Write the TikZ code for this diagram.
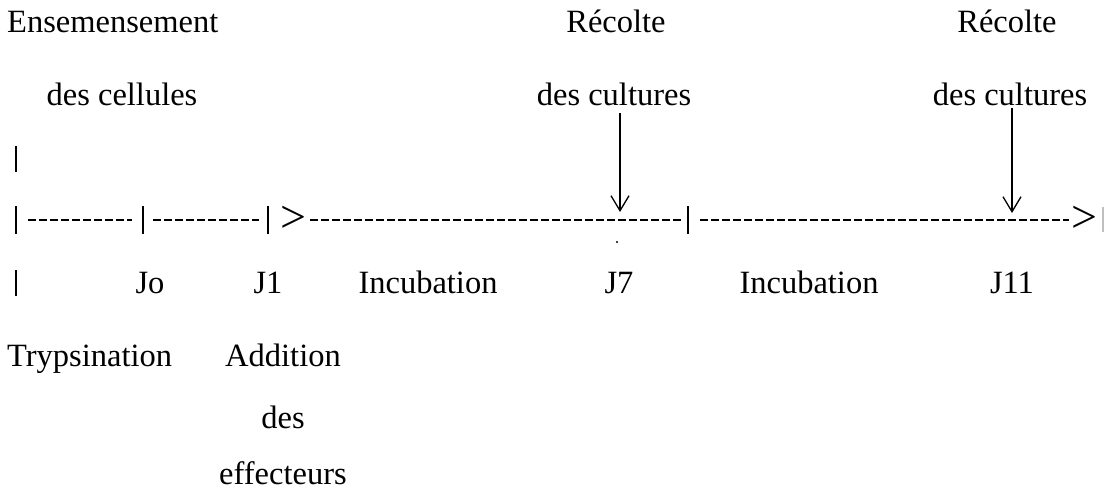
\documentclass[tikz,border=0pt]{standalone}
\usepackage{fontspec}
\setmainfont{Liberation Serif}
\usetikzlibrary{arrows.meta,calc}
\begin{document}
\begin{tikzpicture}[x=1pt,y=-1pt,
  lbl/.style={inner sep=0pt,anchor=base,font=\fontsize{32.5}{38}\selectfont},
  lblw/.style={lbl,anchor=base west},
  gtsym/.style={inner sep=0pt,font=\fontsize{46}{50}\selectfont},
  bar/.style={line width=1.8pt},
  dline/.style={line width=1.7pt,dash pattern=on 8pt off 3pt},
  harvest/.style={line width=1.3pt,-{Straight Barb[length=15pt,width=18pt,line width=1.3pt]}}]
\useasboundingbox (0,0) rectangle (1106,491);
% top labels
\node[lblw] (ens) at (7,32) {Ensemensement};
\node[lbl] (descel) at (122,105) {des cellules};
\node[lbl] (rec1) at (616,32) {Récolte};
\node[lbl] (cult1) at (614,105) {des cultures};
\node[lbl] (rec2) at (1007,32) {Récolte};
\node[lbl] (cult2) at (1010,105) {des cultures};
% upper bar
\draw[bar] (16,146) -- (16,172);
% timeline
\coordinate (t0) at (16,220);
\coordinate (t1) at (143,220);
\coordinate (t2) at (268,220);
\coordinate (t3) at (688,220);
\draw[bar] ($(t0)+(0,-14)$) -- ($(t0)+(0,14)$);
\draw[bar] ($(t1)+(0,-14)$) -- ($(t1)+(0,14)$);
\draw[bar] ($(t2)+(0,-14)$) -- ($(t2)+(0,14)$);
\draw[bar] ($(t3)+(0,-14)$) -- ($(t3)+(0,14)$);
\draw[line width=1.2pt,black!25] (1103,207) -- (1103,232);
\coordinate (d1a) at (28,220); \coordinate (d1b) at (132,220);
\coordinate (d2a) at (153,220); \coordinate (d2b) at (259,220);
\coordinate (d3a) at (310,220); \coordinate (d3b) at (681,220);
\coordinate (d4a) at (700,220); \coordinate (d4b) at (1069,220);
\draw[dline] (d1a) -- (d1b);
\draw[dline] (d2a) -- (d2b);
\draw[dline] (d3a) -- (d3b);
\draw[dline] (d4a) -- (d4b);
\node[gtsym] (gt1) at (293,219) {>};
\node[gtsym] (gt2) at (1084,219) {>};
\fill (617,242) circle (1.2pt);
% harvest arrows
\coordinate (a1s) at (620,113); \coordinate (a1e) at (620,212);
\coordinate (a2s) at (1012,108); \coordinate (a2e) at (1012,213);
\draw[harvest] (a1s) -- (a1e);
\draw[harvest] (a2s) -- (a2e);
% lower row
\draw[bar] (16,270) -- (16,296);
\node[lbl] (jo) at (150,293) {Jo};
\node[lbl] (j1) at (268,293) {J1};
\node[lbl] (inc1) at (428,293) {Incubation};
\node[lbl] (j7) at (619,293) {J7};
\node[lbl] (inc2) at (809,293) {Incubation};
\node[lbl] (j11) at (1012,293) {J11};
\node[lblw] (tryp) at (7,366) {Trypsination};
\node[lbl] (add) at (283,366) {Addition};
\node[lbl] (des) at (283,428) {des};
\node[lbl] (eff) at (283,484) {effecteurs};
\end{tikzpicture}
\end{document}
